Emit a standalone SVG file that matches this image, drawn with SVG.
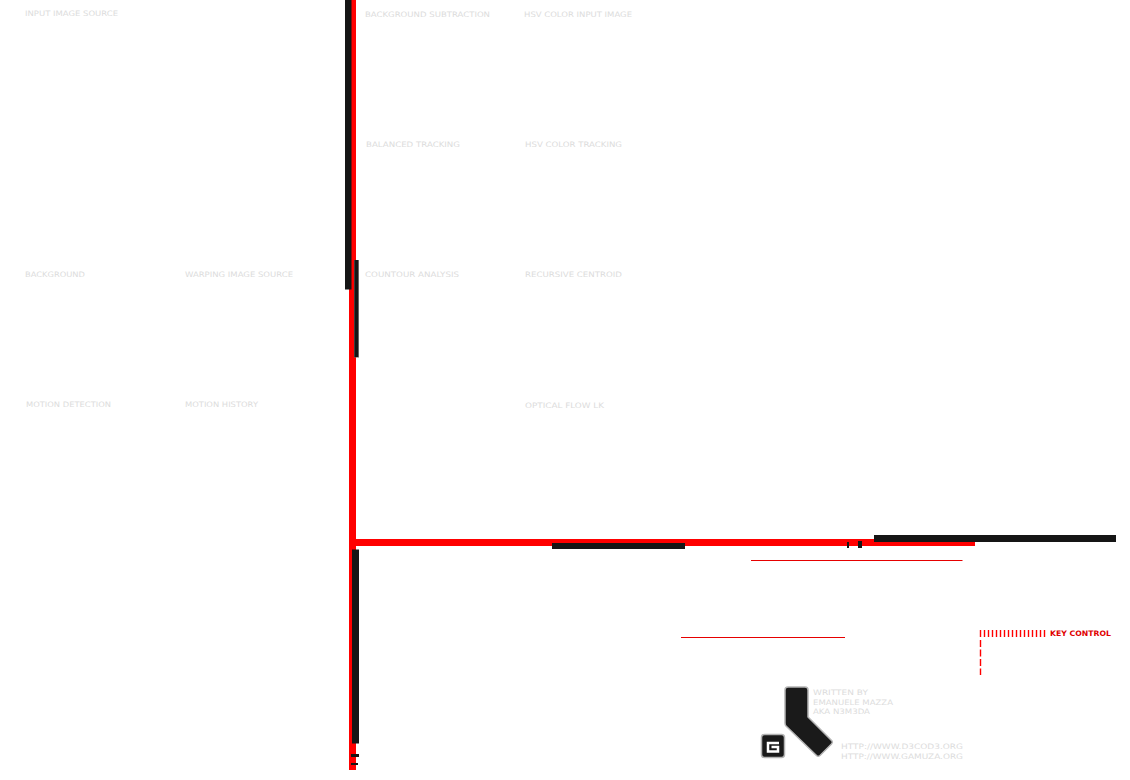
<svg xmlns="http://www.w3.org/2000/svg" width="1130" height="780" viewBox="0 0 1130 780">
<style>
.t{font-family:"DejaVu Sans","Liberation Sans",sans-serif;font-size:7.500px;fill:#dcdcdc}
.c{fill:#151515}
.r{fill:#ff0000}
.k{font-family:"DejaVu Sans","Liberation Sans",sans-serif;font-size:7.500px;font-weight:bold;fill:#e00000}
</style>
<rect width="1130" height="780" fill="#ffffff"/>
<g id="connectors">
<rect class="r" x="349" y="0" width="7" height="770"/>
<rect class="r" x="349" y="539" width="626" height="7"/>
<rect class="c" x="345" y="0" width="6.500" height="289.500"/>
<rect x="354" y="260" width="5" height="97.500" fill="#666"/>
<rect class="c" x="354.500" y="260" width="3.500" height="97"/>
<rect class="c" x="552" y="543" width="133" height="6"/>
<rect class="c" x="874" y="535" width="242" height="7"/>
<rect class="c" x="847" y="542" width="2" height="6"/>
<rect class="c" x="858" y="541" width="4" height="7"/>
<rect class="c" x="352" y="549.500" width="7" height="194"/>
<rect class="c" x="351" y="754" width="8" height="3"/>
<rect class="c" x="351" y="763" width="7" height="2"/>
<rect x="751" y="560" width="211.500" height="1" fill="#e60000"/>
<rect x="681" y="637" width="164" height="1" fill="#e60000"/>
<path d="M980.500 630V637M984.500 630V637M988.500 630V637M992.500 630V637M996.500 630V637M1000.500 630V637M1004.500 630V637M1008.500 630V637M1012.500 630V637M1016.500 630V637M1020.500 630V637M1024.500 630V637M1028.500 630V637M1032.500 630V637M1036.500 630V637M1040.500 630V637M1044.500 630V637" stroke="#ff0000" stroke-width="1.400" fill="none"/>
<path d="M980.500 640V675" stroke="#ff0000" stroke-width="1.400" stroke-dasharray="7 2.500" fill="none"/>
</g>
<g id="input-image-source"><text class="t" x="25" y="16" textLength="93" lengthAdjust="spacingAndGlyphs">INPUT IMAGE SOURCE</text></g>
<g id="background-subtraction"><text class="t" x="365" y="17" textLength="125" lengthAdjust="spacingAndGlyphs">BACKGROUND SUBTRACTION</text></g>
<g id="hsv-color-input-image"><text class="t" x="524" y="17" textLength="108" lengthAdjust="spacingAndGlyphs">HSV COLOR INPUT IMAGE</text></g>
<g id="balanced-tracking"><text class="t" x="366" y="147" textLength="94" lengthAdjust="spacingAndGlyphs">BALANCED TRACKING</text></g>
<g id="hsv-color-tracking"><text class="t" x="525" y="147" textLength="97" lengthAdjust="spacingAndGlyphs">HSV COLOR TRACKING</text></g>
<g id="background"><text class="t" x="25" y="277" textLength="60" lengthAdjust="spacingAndGlyphs">BACKGROUND</text></g>
<g id="warping-image-source"><text class="t" x="185" y="277" textLength="108" lengthAdjust="spacingAndGlyphs">WARPING IMAGE SOURCE</text></g>
<g id="countour-analysis"><text class="t" x="365" y="277" textLength="94" lengthAdjust="spacingAndGlyphs">COUNTOUR ANALYSIS</text></g>
<g id="recursive-centroid"><text class="t" x="525" y="277" textLength="97" lengthAdjust="spacingAndGlyphs">RECURSIVE CENTROID</text></g>
<g id="motion-detection"><text class="t" x="26" y="407" textLength="85" lengthAdjust="spacingAndGlyphs">MOTION DETECTION</text></g>
<g id="motion-history"><text class="t" x="185" y="407" textLength="73" lengthAdjust="spacingAndGlyphs">MOTION HISTORY</text></g>
<g id="optical-flow"><text class="t" x="525" y="408" textLength="79" lengthAdjust="spacingAndGlyphs">OPTICAL FLOW LK</text></g>
<g id="key-control"><text class="k" x="1050" y="636" textLength="61" lengthAdjust="spacingAndGlyphs">KEY CONTROL</text></g>
<g id="credits">
<text class="t" x="813" y="695" textLength="55" lengthAdjust="spacingAndGlyphs">WRITTEN BY</text>
<text class="t" x="813" y="705" textLength="80" lengthAdjust="spacingAndGlyphs">EMANUELE MAZZA</text>
<text class="t" x="813" y="714" textLength="57" lengthAdjust="spacingAndGlyphs">AKA N3M3DA</text>
<text class="t" x="841" y="749" textLength="122" lengthAdjust="spacingAndGlyphs">HTTP://WWW.D3COD3.ORG</text>
<text class="t" x="841" y="759" textLength="122" lengthAdjust="spacingAndGlyphs">HTTP://WWW.GAMUZA.ORG</text>
</g>
<g id="logo">
<path d="M788 687H805Q808 687 808 690V717L832 741Q833 742.500 831.500 744L820 755.500Q818 757 816.500 755.500L786 726Q785 725 785 723V690Q785 687 788 687Z" fill="#1a1a1a" stroke="#b4b4b4" stroke-width="1.500"/>
<rect x="761.500" y="734.500" width="23" height="23" rx="3" fill="#1a1a1a" stroke="#b4b4b4" stroke-width="1.500"/>
<path d="M779 743H768V751.500H778V747H771.500" fill="none" stroke="#ffffff" stroke-width="2.500"/>
</g>
</svg>
